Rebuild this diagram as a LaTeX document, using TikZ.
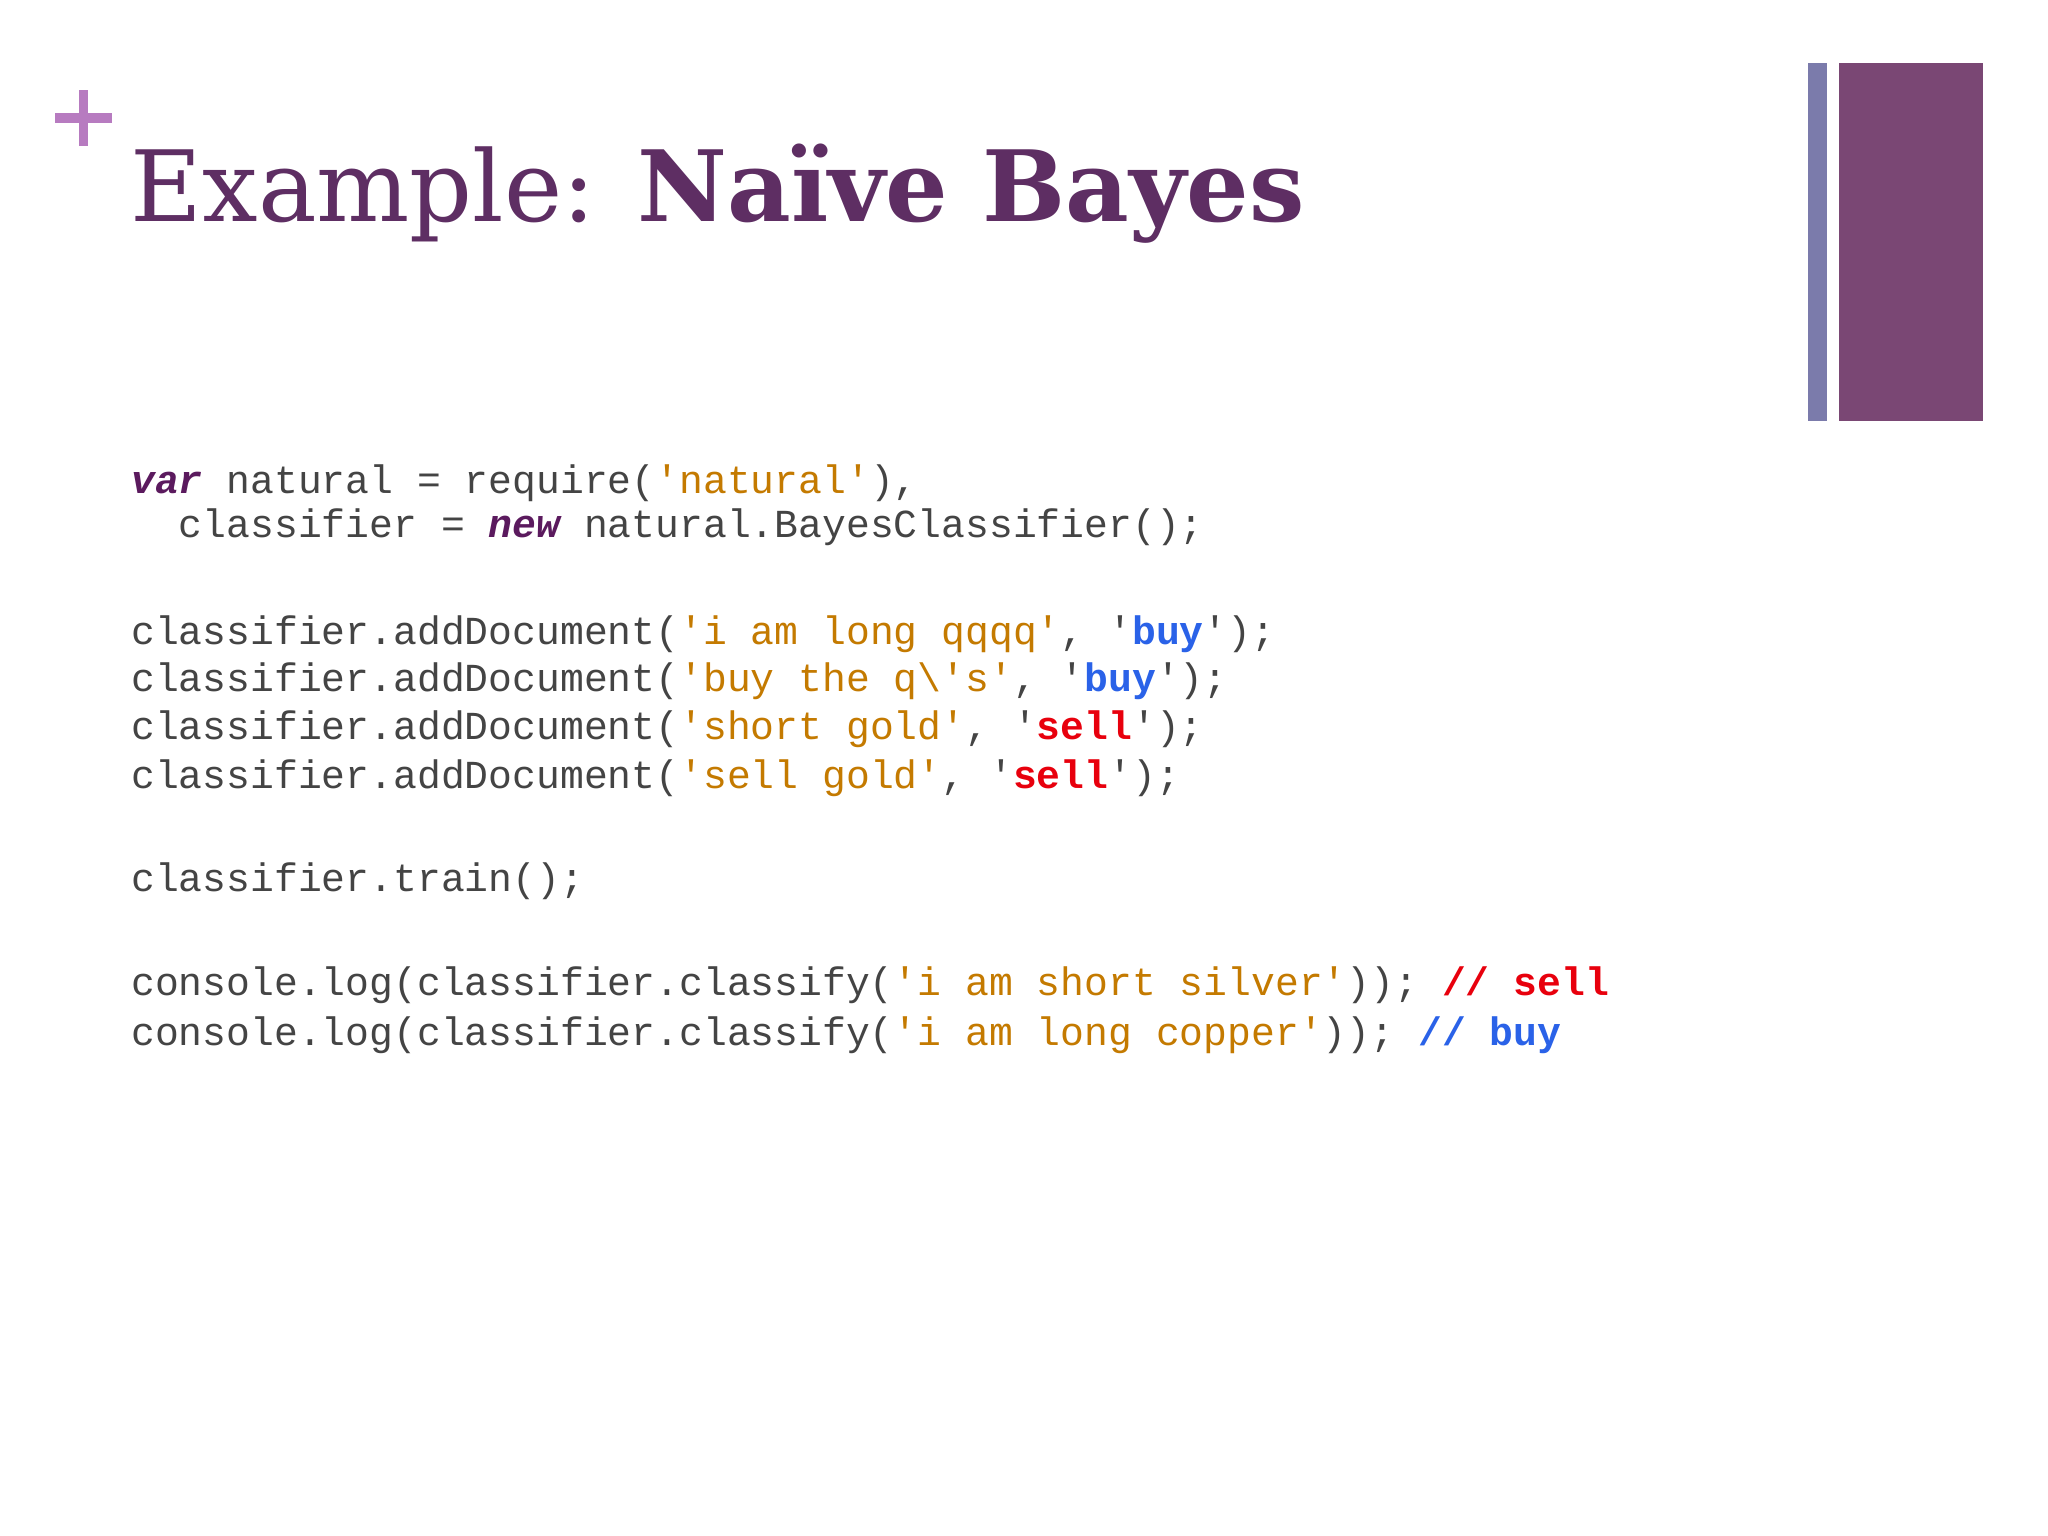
\documentclass[tikz,border=0pt]{standalone}
\usepackage{fontspec}
\setmainfont{DejaVu Serif}
\setmonofont{Liberation Mono}
\definecolor{titlec}{HTML}{5E2E63}
\definecolor{plusc}{HTML}{B77BC0}
\definecolor{barA}{HTML}{7B7BAB}
\definecolor{barB}{HTML}{7A4774}
\definecolor{codec}{HTML}{444444}
\definecolor{kw}{HTML}{5B1A5E}
\definecolor{str}{HTML}{C47A00}
\definecolor{buyc}{HTML}{2A62E8}
\definecolor{sellc}{HTML}{E8000D}
\newcommand{\qs}[1]{\textcolor{str}{'#1'}}
\newcommand{\kwd}[1]{\textcolor{kw}{\bfseries\itshape #1}}
\newcommand{\buyw}{'\textcolor{buyc}{\bfseries buy}'}
\newcommand{\sellw}{'\textcolor{sellc}{\bfseries sell}'}
\tikzset{code/.style={anchor=base west,inner sep=0pt,text=codec,font=\ttfamily\fontsize{11.3}{13}\selectfont}}
\begin{document}
\begin{tikzpicture}[x=1cm,y=-1cm]
\useasboundingbox (0,0) rectangle (20.48,15.36);
\fill[white] (0,0) rectangle (20.48,15.36);
% plus
\fill[plusc] (0.55,1.13) rectangle (1.12,1.23);
\fill[plusc] (0.785,0.90) rectangle (0.885,1.46);
% bars
\fill[barA] (18.08,0.63) rectangle (18.27,4.21);
\fill[barB] (18.39,0.63) rectangle (19.83,4.21);
% title
\node[anchor=base west,inner sep=0pt,text=titlec,font=\fontsize{28}{32}\selectfont] (title) at (1.30,2.22) {Example: \textbf{Naïve Bayes}};
% code
\node[code] (l1) at (1.306,4.94) {\kwd{var} natural = require(\qs{natural}),};
\node[code] (l2) at (1.306,5.38) {\phantom{cl}classifier = \kwd{new} natural.BayesClassifier();};
\node[code] (l3) at (1.306,6.44) {classifier.addDocument(\qs{i am long qqqq}, \buyw);};
\node[code] (l4) at (1.306,6.92) {classifier.addDocument(\qs{buy the q\textbackslash'{}s}, \buyw);};
\node[code] (l5) at (1.306,7.40) {classifier.addDocument(\qs{short gold}, \sellw);};
\node[code] (l6) at (1.306,7.89) {classifier.addDocument(\qs{sell gold}, \sellw);};
\node[code] (l7) at (1.306,8.91) {classifier.train();};
\node[code] (l8) at (1.306,9.95) {console.log(classifier.classify(\qs{i am short silver})); \textcolor{sellc}{\bfseries // sell}};
\node[code] (l9) at (1.306,10.45) {console.log(classifier.classify(\qs{i am long copper})); \textcolor{buyc}{\bfseries // buy}};
\end{tikzpicture}
\end{document}
